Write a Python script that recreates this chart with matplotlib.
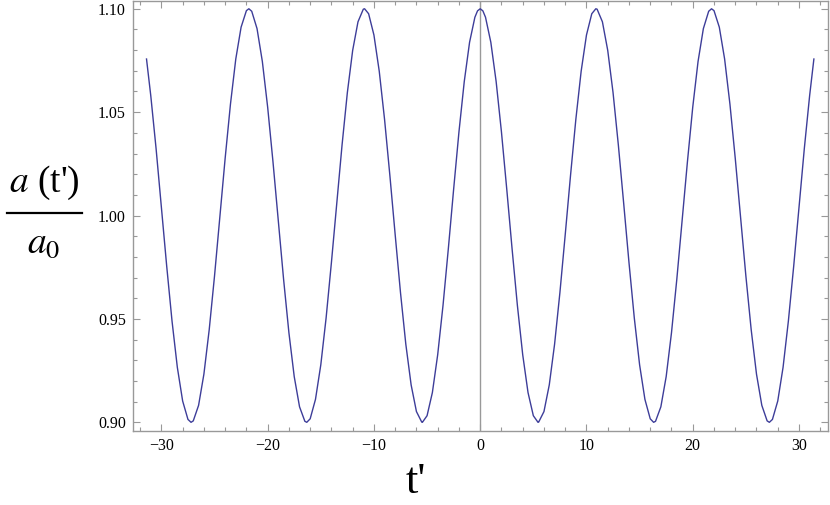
"""Ratio a(t')/a0 versus t' — oscillation around 1 with amplitude 0.1."""

import matplotlib
matplotlib.use("Agg")
import matplotlib.pyplot as plt
from matplotlib.lines import Line2D
from matplotlib.ticker import MultipleLocator, FormatStrFormatter

# values (one line per half period, roughly)
T_PRIME = [
    -31.4, -31.0, -30.5, -30.0, -29.5, -29.0, -28.5, -28.0, -27.5, -27.21,
    -27.0, -26.5, -26.0, -25.5, -25.0, -24.5, -24.0, -23.5, -23.0, -22.5, -22.0, -21.77,
    -21.5, -21.0, -20.5, -20.0, -19.5, -19.0, -18.5, -18.0, -17.5, -17.0, -16.5, -16.32,
    -16.0, -15.5, -15.0, -14.5, -14.0, -13.5, -13.0, -12.5, -12.0, -11.5, -11.0, -10.88,
    -10.5, -10.0, -9.5, -9.0, -8.5, -8.0, -7.5, -7.0, -6.5, -6.0, -5.5, -5.44,
    -5.0, -4.5, -4.0, -3.5, -3.0, -2.5, -2.0, -1.5, -1.0, -0.5, -0.25, 0.0,
    0.25, 0.5, 1.0, 1.5, 2.0, 2.5, 3.0, 3.5, 4.0, 4.5, 5.0, 5.44,
    5.5, 6.0, 6.5, 7.0, 7.5, 8.0, 8.5, 9.0, 9.5, 10.0, 10.5, 10.88,
    11.0, 11.5, 12.0, 12.5, 13.0, 13.5, 14.0, 14.5, 15.0, 15.5, 16.0, 16.32,
    16.5, 17.0, 17.5, 18.0, 18.5, 19.0, 19.5, 20.0, 20.5, 21.0, 21.5, 21.77,
    22.0, 22.5, 23.0, 23.5, 24.0, 24.5, 25.0, 25.5, 26.0, 26.5, 27.0, 27.21,
    27.5, 28.0, 28.5, 29.0, 29.5, 30.0, 30.5, 31.0, 31.4,
]
A_RATIO = [
    1.0757, 1.0580, 1.0324, 1.0042, 0.9755, 0.9490, 0.9266, 0.9103, 0.9014, 0.9000,
    0.9007, 0.9082, 0.9233, 0.9448, 0.9708, 0.9992, 1.0277, 1.0539, 1.0757, 1.0911, 1.0991, 1.1000,
    1.0988, 1.0904, 1.0745, 1.0524, 1.0260, 0.9974, 0.9691, 0.9433, 0.9221, 0.9075, 0.9005, 0.9000,
    0.9017, 0.9111, 0.9278, 0.9505, 0.9773, 1.0060, 1.0341, 1.0595, 1.0799, 1.0937, 1.0998, 1.1000,
    1.0976, 1.0873, 1.0698, 1.0465, 1.0194, 0.9907, 0.9627, 0.9378, 0.9181, 0.9052, 0.9001, 0.9000,
    0.9032, 0.9144, 0.9327, 0.9565, 0.9839, 1.0127, 1.0404, 1.0648, 1.0838, 1.0959, 1.0990, 1.1000,
    1.0990, 1.0959, 1.0838, 1.0648, 1.0404, 1.0127, 0.9839, 0.9565, 0.9327, 0.9144, 0.9032, 0.9000,
    0.9001, 0.9052, 0.9181, 0.9378, 0.9627, 0.9907, 1.0194, 1.0465, 1.0698, 1.0873, 1.0976, 1.1000,
    1.0998, 1.0937, 1.0799, 1.0595, 1.0341, 1.0060, 0.9773, 0.9505, 0.9278, 0.9111, 0.9017, 0.9000,
    0.9005, 0.9075, 0.9221, 0.9433, 0.9691, 0.9974, 1.0260, 1.0524, 1.0745, 1.0904, 1.0988, 1.1000,
    1.0991, 1.0911, 1.0757, 1.0539, 1.0277, 0.9992, 0.9708, 0.9448, 0.9233, 0.9082, 0.9007, 0.9000,
    0.9014, 0.9103, 0.9266, 0.9490, 0.9755, 1.0042, 1.0324, 1.0580, 1.0757,
]

X_MAJOR, X_MINOR = 10, 2
Y_MAJOR, Y_MINOR = 0.05, 0.01

plt.rcParams["font.family"] = ["Liberation Serif", "DejaVu Serif"]
plt.rcParams["mathtext.fontset"] = "stix"

W, H = 830, 505
fig = plt.figure(figsize=(W / 100, H / 100), dpi=100)
ax = fig.add_axes([132.7 / W, 1 - 431 / H, 695 / W, 430.5 / H])

FRAME = "#999999"
ax.axvline(0, color=FRAME, lw=1.0, zorder=1)
ax.plot(T_PRIME, A_RATIO, color="#3d3d99", lw=1.0, zorder=2)

ax.set_xlim(-32.7, 32.7)
ax.set_ylim(0.8958, 1.1040)
ax.xaxis.set_major_locator(MultipleLocator(X_MAJOR))
ax.xaxis.set_minor_locator(MultipleLocator(X_MINOR))
ax.yaxis.set_major_locator(MultipleLocator(Y_MAJOR))
ax.yaxis.set_minor_locator(MultipleLocator(Y_MINOR))
ax.yaxis.set_major_formatter(FormatStrFormatter("%.2f"))

for s in ax.spines.values():
    s.set_color(FRAME)
    s.set_linewidth(1.0)
ax.tick_params(which="both", direction="in", top=True, right=True,
               color=FRAME, width=0.8, labelsize=11.5, pad=5)
ax.tick_params(which="major", length=5)
ax.tick_params(which="minor", length=3)

# axis labels, Mathematica style
fig.text(0.5 + 0.5 / W, 1 - 493 / H, "t'", fontsize=32,
         ha="center", va="baseline")
fig.text(44.5 / W, 1 - 192 / H, "$a$ (t')", fontsize=27,
         ha="center", va="baseline")
fig.add_artist(Line2D([7 / W, 82 / W], [1 - 213 / H, 1 - 213 / H],
                      color="black", lw=1.6))
fig.text(43.5 / W, 1 - 253 / H, "$a_0$", fontsize=27,
         ha="center", va="baseline")

fig.savefig("out.png", dpi=100)
